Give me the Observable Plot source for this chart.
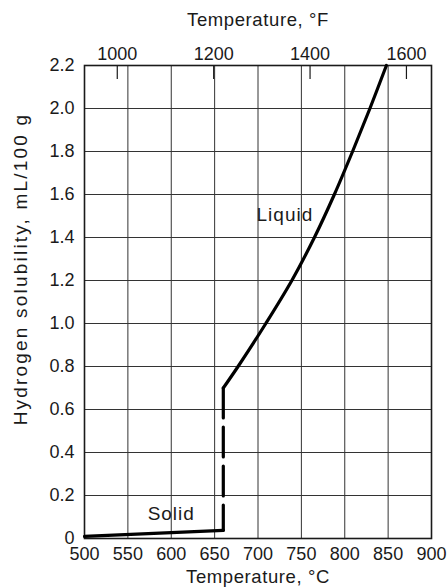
<!DOCTYPE html>
<html>
<head>
<meta charset="utf-8">
<script src="https://cdn.jsdelivr.net/npm/d3@7"></script>
<script src="https://cdn.jsdelivr.net/npm/@observablehq/plot@0.6"></script>
<style>
  html, body { margin: 0; padding: 0; background: #fff; }
  #chart svg { display: block; }
</style>
</head>
<body>
<div id="chart"></div>
<script>
// Tick values
const xTicksC = [500, 550, 600, 650, 700, 750, 800, 850, 900];
const yTicks = [0, 0.2, 0.4, 0.6, 0.8, 1.0, 1.2, 1.4, 1.6, 1.8, 2.0, 2.2];
const fTicks = [1000, 1200, 1400, 1600];

// Solid phase solubility
const solidT = [500, 660];
const solidH = [0.01, 0.038];

// Melting transition (dashed)
const meltT = [660, 660];
const meltH = [0.70, 0.038];

// Liquid phase solubility
const liquidT = [660, 677, 709, 739, 765, 788, 809, 829, 848];
const liquidH = [0.70, 0.80, 1.00, 1.20, 1.40, 1.60, 1.80, 2.00, 2.20];

// Region labels
const regionNames = ["Solid", "Liquid"];
const regionT = [600, 731];
const regionH = [0.115, 1.505];

const toRows = (xs, ys) => xs.map((x, i) => ({x, y: ys[i]}));
const solid = toRows(solidT, solidH);
const melt = toRows(meltT, meltH);
const liquid = toRows(liquidT, liquidH);
const regions = regionNames.map((name, i) => ({name, x: regionT[i], y: regionH[i]}));
const fToC = f => (f - 32) * 5 / 9;

const W = 448, H = 587;
const mTop = 65, mBottom = 49, mLeft = 84, mRight = 17;
const frameH = H - mTop - mBottom;
const ink = "#1a1a1a";

const chart = Plot.plot({
  width: W,
  height: H,
  marginTop: mTop,
  marginBottom: mBottom,
  marginLeft: mLeft,
  marginRight: mRight,
  style: {fontFamily: "'Liberation Sans', Arial, Helvetica, sans-serif", fontSize: "18px", color: ink, background: "#fff"},
  x: {domain: [500, 900], ticks: xTicksC, tickSize: 0, tickPadding: 9, label: null, tickFormat: d => String(d)},
  y: {domain: [0, 2.2], ticks: yTicks, tickSize: 0, tickPadding: 10, label: null,
      tickFormat: d => d === 0 ? "0" : d.toFixed(1)},
  marks: [
    Plot.ruleX(xTicksC, {stroke: "#333", strokeWidth: 1}),
    Plot.ruleY(yTicks, {stroke: "#333", strokeWidth: 1}),
    Plot.ruleX(fTicks, {x: fToC, insetBottom: frameH - 14, stroke: ink, strokeWidth: 1.2}),
    Plot.text(fTicks, {x: fToC, text: d => String(d), frameAnchor: "top", lineAnchor: "middle", dy: -11.5, fill: ink}),
    Plot.frame({stroke: ink, strokeWidth: 1.6}),
    Plot.line(solid, {x: "x", y: "y", stroke: "#000", strokeWidth: 3.2}),
    Plot.line(melt, {x: "x", y: "y", stroke: "#000", strokeWidth: 3.2, strokeDasharray: "30,9"}),
    Plot.line(liquid, {x: "x", y: "y", stroke: "#000", strokeWidth: 3.2, curve: "catmull-rom"}),
    Plot.text(regions, {x: "x", y: "y", text: "name", fill: ink, fontSize: 19}),
    Plot.text(["Temperature, °F"], {frameAnchor: "top", lineAnchor: "middle", textAnchor: "middle", dy: -45, fill: ink, fontSize: 18.5}),
    Plot.text(["Temperature, °C"], {frameAnchor: "bottom", lineAnchor: "middle", textAnchor: "middle", dy: 39, fill: ink, fontSize: 18.5}),
    Plot.text(["Hydrogen solubility, mL/100 g"], {frameAnchor: "left", lineAnchor: "middle", textAnchor: "middle", dx: -63.5, dy: -33, rotate: -90, fill: ink, fontSize: 19})
  ]
});
document.getElementById("chart").append(chart);
// letter spacing tweaks for title texts
d3.select(chart).selectAll("text").each(function() {
  const t = this.textContent;
  if (t.startsWith("Hydrogen")) this.setAttribute("letter-spacing", "2.2px");
  else if (t.startsWith("Temperature")) this.setAttribute("letter-spacing", "0.6px");
  else if (t === "Solid" || t === "Liquid") this.setAttribute("letter-spacing", "1px");
});
</script>
</body>
</html>
